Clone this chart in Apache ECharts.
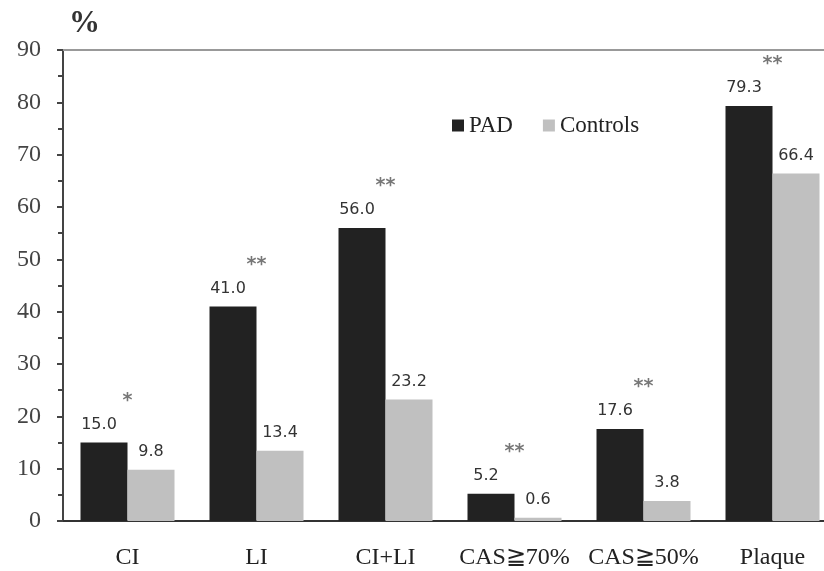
<!DOCTYPE html>
<html>
<head>
<meta charset="utf-8">
<script src="https://cdn.jsdelivr.net/npm/echarts@6/dist/echarts.min.js"></script>
<style>
  html, body { margin: 0; padding: 0; background: #fff; }
  #chart { width: 824px; height: 571px; }
</style>
</head>
<body>
<div id="chart"></div>
<script>
// data
const categories = ["CI", "LI", "CI+LI", "CAS≧70%", "CAS≧50%", "Plaque"];
const padValues = [15.0, 41.0, 56.0, 5.2, 17.6, 79.3];
const controlValues = [9.8, 13.4, 23.2, 0.6, 3.8, 66.4];
const signif = ["*", "**", "**", "**", "**", "**"];

const serif = "'Liberation Serif', 'DejaVu Serif', serif";
const sans = "'DejaVu Sans', Verdana, sans-serif";

const chart = echarts.init(document.getElementById("chart"));

const valueLabel = {
  show: true,
  position: "top",
  distance: 10,
  fontFamily: sans,
  fontSize: 16,
  color: "#333",
  formatter: (p) => p.value.toFixed(1),
};

chart.setOption({
  animation: false,
  backgroundColor: "#fff",
  // plot runs past the right edge of the picture, like the cropped original
  grid: { left: 63, width: 774, top: 50, bottom: 50, outerBoundsMode: "none" },
  legend: {
    left: 447,
    top: 109,
    itemWidth: 12,
    itemHeight: 12,
    itemGap: 30,
    icon: "rect",
    data: ["PAD", "Controls"],
    textStyle: { fontFamily: serif, fontSize: 23, color: "#222" },
  },
  title: {
    text: "%",
    left: 64,
    top: 3,
    textStyle: { fontFamily: serif, fontSize: 31, fontWeight: "bold", color: "#333" },
  },
  xAxis: [
    {
      type: "category",
      data: categories,
      axisLine: { lineStyle: { color: "#333", width: 2 } },
      axisTick: { show: false },
      axisLabel: { interval: 0, hideOverlap: false, margin: 25, fontFamily: serif, fontSize: 24, color: "#222" },
    },
    {
      type: "category",
      position: "top",
      data: categories,
      axisLine: { lineStyle: { color: "#999", width: 2 } },
      axisTick: { show: false },
      axisLabel: { show: false },
    },
  ],
  yAxis: {
    type: "value",
    min: 0,
    max: 90,
    interval: 10,
    axisLine: { show: true, lineStyle: { color: "#444", width: 2 } },
    axisTick: { show: true, inside: false, length: 6, lineStyle: { color: "#444", width: 2 } },
    minorTick: { show: true, splitNumber: 2, length: 5, lineStyle: { color: "#444", width: 2 } },
    splitLine: { show: false },
    axisLabel: { margin: 22, fontFamily: serif, fontSize: 24, color: "#444" },
  },
  series: [
    {
      name: "PAD",
      type: "bar",
      xAxisIndex: 0,
      data: padValues,
      barWidth: 47,
      barGap: "0%",
      itemStyle: { color: "#222" },
      label: Object.assign({}, valueLabel, { offset: [-5, 0] }),
    },
    {
      name: "Controls",
      type: "bar",
      xAxisIndex: 0,
      data: controlValues,
      barWidth: 47,
      itemStyle: { color: "#c0c0c0" },
      label: valueLabel,
    },
    {
      name: "sig",
      type: "scatter",
      xAxisIndex: 0,
      data: padValues,
      symbolSize: 0,
      silent: true,
      label: {
        show: true,
        position: "top",
        distance: 32,
        fontFamily: sans,
        fontSize: 19,
        fontWeight: "bold",
        color: "#555",
        formatter: (p) => signif[p.dataIndex],
      },
    },
  ],
});
</script>
</body>
</html>
